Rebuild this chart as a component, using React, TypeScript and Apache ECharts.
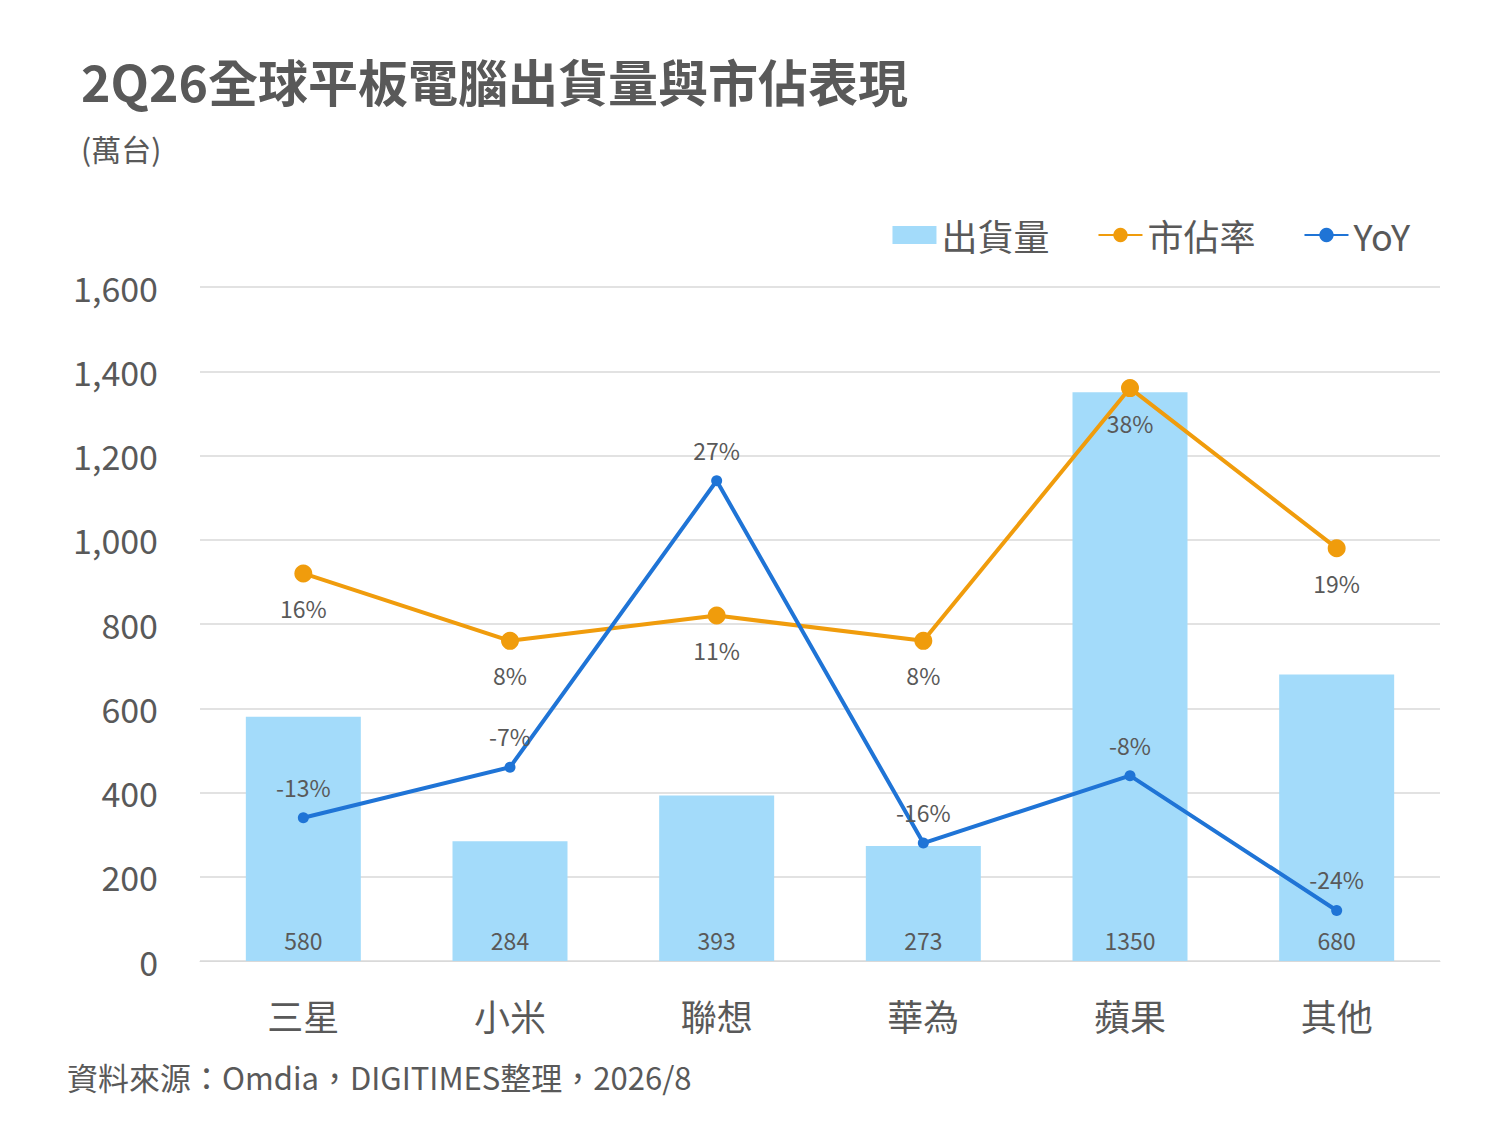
import React, { useEffect, useRef } from 'react';
import * as echarts from 'echarts';

const brands = ['三星', '小米', '聯想', '華為', '蘋果', '其他'];
const shipments = [580, 284, 393, 273, 1350, 680];
const share = [16, 8, 11, 8, 38, 19];
const yoy = [-13, -7, 27, -16, -8, -24];
const yTicks = [0, 200, 400, 600, 800, 1000, 1200, 1400, 1600];

const FONT = '"Noto Sans CJK TC", "Noto Sans", sans-serif';
const GRAY = '#595959';

const App: React.FC = () => {
  const chartRef = useRef<HTMLDivElement>(null);

  useEffect(() => {
    document.body.style.margin = '0';
    if (!chartRef.current) return;
    const chart = echarts.init(chartRef.current, undefined, { renderer: 'svg' });
    chart.setOption({
      animation: false,
      textStyle: { fontFamily: FONT },
      title: [
        {
          text: '2Q26全球平板電腦出貨量與市佔表現',
          left: 76, top: 50,
          textStyle: { fontSize: 50, fontWeight: 'bold', color: GRAY, fontFamily: FONT },
        },
        {
          text: '(萬台)',
          left: 76, top: 128,
          textStyle: { fontSize: 30, fontWeight: 'normal', color: GRAY, fontFamily: FONT },
        },
        {
          text: '資料來源：Omdia，DIGITIMES整理，2026/8',
          left: 62, top: 1056,
          textStyle: { fontSize: 31, fontWeight: 'normal', color: GRAY, fontFamily: FONT },
        },
      ],
      legend: {
        right: 85, top: 212,
        itemWidth: 44, itemHeight: 18, itemGap: 48,
        textStyle: { fontSize: 36, color: GRAY, fontFamily: FONT },
        data: [
          { name: '出貨量', icon: 'rect' },
          { name: '市佔率' },
          { name: 'YoY' },
        ],
      },
      grid: { left: 200, right: 60, top: 287, bottom: 164 },
      xAxis: {
        type: 'category',
        data: brands,
        axisLine: { lineStyle: { color: '#d9d9d9' } },
        axisTick: { show: false },
        axisLabel: { fontSize: 36, color: GRAY, margin: 36 },
      },
      yAxis: [
        {
          type: 'value', min: 0, max: 1600, interval: 200,
          axisLabel: {
            fontSize: 34, color: GRAY, margin: 42,
            formatter: (v: number) => (yTicks.includes(v) ? v.toLocaleString('en-US') : ''),
          },
          splitLine: { lineStyle: { color: '#d9d9d9', width: 1.5 } },
          axisLine: { show: false },
        },
        {
          type: 'value', min: -30, max: 50, show: false,
          splitLine: { show: false },
        },
      ],
      series: [
        {
          name: '出貨量', type: 'bar', data: shipments, barWidth: 115,
          itemStyle: { color: '#a3dbfa' },
          label: { show: true, position: 'insideBottom', distance: 10, fontSize: 23, color: GRAY },
        },
        {
          name: '市佔率', type: 'line', yAxisIndex: 1, data: share,
          symbol: 'circle', symbolSize: 18,
          lineStyle: { color: '#f09c0c', width: 4 },
          itemStyle: { color: '#f09c0c' },
          label: { show: true, position: 'bottom', distance: 14, fontSize: 23, color: GRAY, formatter: '{c}%' },
        },
        {
          name: 'YoY', type: 'line', yAxisIndex: 1, data: yoy,
          symbol: 'circle', symbolSize: 11,
          lineStyle: { color: '#1f74d6', width: 4 },
          itemStyle: { color: '#1f74d6' },
          label: { show: true, position: 'top', distance: 14, fontSize: 23, color: GRAY, formatter: '{c}%' },
        },
      ],
    });
    return () => chart.dispose();
  }, []);

  return <div ref={chartRef} style={{ width: 1500, height: 1125, background: '#fff' }} />;
};

export default App;
